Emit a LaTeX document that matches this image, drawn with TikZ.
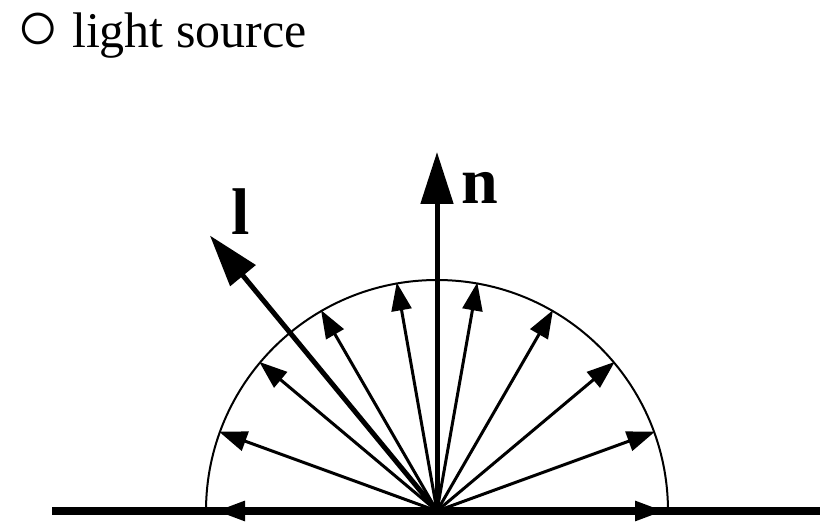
\documentclass[tikz,border=0pt]{standalone}
\usepackage{fontspec}
\setmainfont{Liberation Serif}
\usepackage{tikz}
\usetikzlibrary{arrows.meta,positioning,calc}

\begin{document}
\begin{tikzpicture}[x=1pt, y=1pt,
        surface/.style={line width=8pt},
        dome/.style={line width=2pt},
        ray/.style={-{Triangle[length=28pt, width=20pt]}, line width=3pt},
        bigray/.style={-{Triangle[length=52pt, width=32pt]}, line width=5pt},
        vlabel/.style={font=\fontsize{66}{66}\selectfont\bfseries, inner sep=0pt},
        title/.style={font=\fontsize{50}{50}\selectfont, anchor=base west, inner sep=0pt}
    ]
        \useasboundingbox (0,0) rectangle (820,527);

        \node[title] (src) at (16,479) {\raisebox{-3pt}{\fontsize{72}{72}\selectfont ○} light source};

        % surface and hemisphere
        \coordinate (o) at (437,16);
        \draw[surface] (52,16) -- (820,16);
        \draw[dome] ($(o)+(231,0)$) arc[start angle=0, end angle=180, radius=231];

        % scattered rays
        \foreach \a in {20,40,...,160} {
            \coordinate (r\a) at ($(o)+(\a:232)$);
            \draw[ray] (o) -- (r\a);
        }
        \coordinate (r0) at ($(o)+(0:226)$);
        \coordinate (r180) at ($(o)+(180:220)$);
        \draw[ray] (o) -- (r0);
        \draw[ray] (o) -- (r180);

        % normal and light direction
        \coordinate (n) at ($(o)+(0,359)$);
        \coordinate (l) at ($(o)+(129.5:357)$);
        \draw[bigray] (o) -- (n);
        \draw[bigray] (o) -- (l);
        \node[vlabel] (nlab) at (480,339) {n};
        \node[vlabel] (llab) at (241,315) {l};
\end{tikzpicture}
\end{document}
